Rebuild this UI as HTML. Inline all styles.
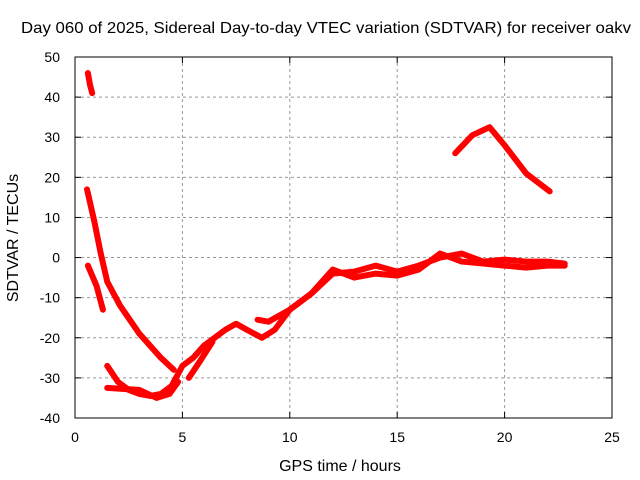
<!DOCTYPE html>
<html><head><meta charset="utf-8"><style>
body{margin:0;background:#fff}
svg{display:block;font-family:"Liberation Sans",sans-serif;font-size:14px}
</style></head><body>
<svg id="c" width="640" height="480">
<text x="326" y="33" text-anchor="middle" textLength="610" lengthAdjust="spacingAndGlyphs" style="font-size:16px">Day 060 of 2025, Sidereal Day-to-day VTEC variation (SDTVAR) for receiver oakv</text>
<text x="340" y="471" text-anchor="middle" style="font-size:16px">GPS time / hours</text>
<text transform="translate(18,238) rotate(-90)" text-anchor="middle" style="font-size:16px">SDTVAR / TECUs</text>
<g id="grid"></g><g id="series"></g>
<rect x="75" y="57" width="537" height="361" fill="none" stroke="#000"/>
</svg>
<script>
const xTicks=[0,5,10,15,20,25];
const yTicks=[-40,-30,-20,-10,0,10,20,30,40,50];
const segHoursA=[0.6,0.7,0.8];
const segValsA=[46,43,41];
const segHoursB=[0.56,0.9,1.2,1.5,2.1,3,4,4.6];
const segValsB=[17,9,1,-6,-12,-19,-25,-28];
const segHoursC=[0.6,1.0,1.3];
const segValsC=[-2,-7,-13];
const segHoursD=[1.5,2,2.5,3,3.5,4,4.5,5,5.5,6,7,7.5,8,8.7,9.3,10,11,12,13,14,15,16,17,18,19,20,21,22,22.8];
const segValsD=[-27,-31,-33,-34,-34.5,-34,-32,-27,-25,-22,-18,-16.5,-18,-20,-18,-13,-9,-4,-3.5,-2,-3.5,-2,0,1,-1,-0.5,-1,-1,-1.5];
const segHoursE=[1.5,3,3.8,4.4,4.8];
const segValsE=[-32.5,-33,-35,-34,-31];
const segHoursF=[5.3,5.8,6.4];
const segValsF=[-30,-26,-21];
const segHoursH=[8.5,9,10,11,12,13,14,15,16,17,18,19,20,21,22,22.8];
const segValsH=[-15.5,-16,-13,-9,-3,-5,-4,-4.5,-3,1,-1,-1.5,-2,-2.5,-2,-2];
const segHoursG=[17.7,18.5,19.3,20,21,22.1];
const segValsG=[26,30.5,32.5,28,21,16.5];
const X=h=>75+h*537/25, Y=v=>418-(v+40)*361/90;
const ns="http://www.w3.org/2000/svg";
const g=document.getElementById('grid'), s=document.getElementById('series');
function mk(tag,at,p){const e=document.createElementNS(ns,tag);for(const k in at)e.setAttribute(k,at[k]);p.appendChild(e);return e;}
xTicks.forEach(t=>{const x=X(t);
 if(t>0&&t<25){const l=mk('line',{x1:x,x2:x,y1:57,y2:418,stroke:'#999','stroke-dasharray':'3,3'},g);
 
 }
 mk('line',{x1:x,x2:x,y1:418,y2:412,stroke:'#000'},g);mk('line',{x1:x,x2:x,y1:57,y2:63,stroke:'#000'},g);
 const tx=mk('text',{x:x,y:442,'text-anchor':'middle'},g);tx.textContent=t;
 
 });
yTicks.forEach(t=>{const y=Y(t);
 if(t>-40&&t<50){const l=mk('line',{x1:75,x2:612,y1:y,y2:y,stroke:'#999','stroke-dasharray':'3,3'},g);
 
 }
 mk('line',{x1:75,x2:81,y1:y,y2:y,stroke:'#000'},g);mk('line',{x1:612,x2:606,y1:y,y2:y,stroke:'#000'},g);
 const tx=mk('text',{x:60,y:y+5,'text-anchor':'end'},g);tx.textContent=t;
 
 });
[[segHoursA,segValsA],[segHoursB,segValsB],[segHoursC,segValsC],[segHoursD,segValsD],[segHoursE,segValsE],[segHoursF,segValsF],[segHoursH,segValsH],[segHoursG,segValsG]].forEach(([hs,vs])=>{
 const p=mk('polyline',{points:hs.map((h,i)=>X(h)+','+Y(vs[i])).join(' '),fill:'none',stroke:'#f00','stroke-width':6,'stroke-linejoin':'round','stroke-linecap':'round'},s);
 
 });
</script>
</body></html>
